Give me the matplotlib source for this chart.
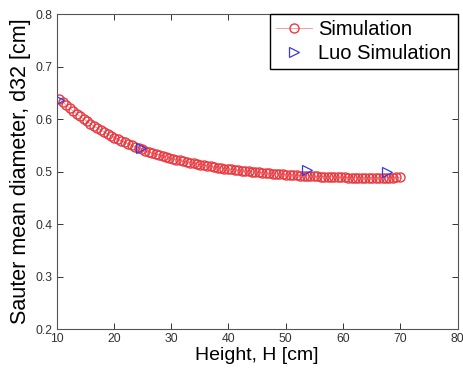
import numpy as np
import matplotlib
matplotlib.use("Agg")
import matplotlib.pyplot as plt

plt.rcParams['font.family'] = ['Liberation Sans', 'DejaVu Sans']

# Simulation: height [cm] and Sauter mean diameter d32 [cm]
sim_height = [10.5, 11.1, 11.7, 12.3, 12.9, 13.5, 14.1, 14.7, 15.3, 15.9,
              16.5, 17.1, 17.7, 18.3, 18.9, 19.5, 20.1, 20.7, 21.3, 21.9,
              22.5, 23.1, 23.7, 24.3, 24.9, 25.5, 26.1, 26.7, 27.3, 27.9,
              28.5, 29.1, 29.7, 30.3, 30.9, 31.5, 32.1, 32.7, 33.3, 33.9,
              34.5, 35.1, 35.7, 36.3, 36.9, 37.5, 38.1, 38.7, 39.3, 39.9,
              40.5, 41.1, 41.7, 42.3, 42.9, 43.5, 44.1, 44.7, 45.3, 45.9,
              46.5, 47.1, 47.7, 48.3, 48.9, 49.5, 50.1, 50.7, 51.3, 51.9,
              52.5, 53.1, 53.7, 54.3, 54.9, 55.5, 56.1, 56.7, 57.3, 57.9,
              58.5, 59.1, 59.7, 60.3, 60.9, 61.5, 62.1, 62.7, 63.3, 63.9,
              64.5, 65.1, 65.7, 66.3, 66.9, 67.5, 68.1, 68.7, 69.3, 69.9]
sim_d32 = [0.6380, 0.6319, 0.6261, 0.6205, 0.6151, 0.6099, 0.6049, 0.6001, 0.5956, 0.5911,
           0.5869, 0.5828, 0.5789, 0.5752, 0.5715, 0.5681, 0.5647, 0.5615, 0.5584, 0.5555,
           0.5526, 0.5499, 0.5473, 0.5448, 0.5423, 0.5400, 0.5378, 0.5356, 0.5336, 0.5316,
           0.5297, 0.5279, 0.5261, 0.5244, 0.5228, 0.5212, 0.5197, 0.5183, 0.5169, 0.5156,
           0.5143, 0.5131, 0.5119, 0.5108, 0.5097, 0.5086, 0.5076, 0.5067, 0.5057, 0.5048,
           0.5040, 0.5032, 0.5024, 0.5016, 0.5009, 0.5002, 0.4995, 0.4989, 0.4982, 0.4976,
           0.4971, 0.4965, 0.4960, 0.4955, 0.4950, 0.4945, 0.4941, 0.4936, 0.4932, 0.4928,
           0.4924, 0.4921, 0.4917, 0.4914, 0.4910, 0.4907, 0.4904, 0.4901, 0.4898, 0.4896,
           0.4893, 0.4891, 0.4888, 0.4886, 0.4884, 0.4882, 0.4881, 0.4880, 0.4879, 0.4879,
           0.4878, 0.4878, 0.4879, 0.4879, 0.4880, 0.4882, 0.4883, 0.4885, 0.4887, 0.4889]

# Luo simulation
luo_height = [10.5, 24.7, 53.7, 67.7]
luo_d32 = [0.637, 0.544, 0.503, 0.4995]

x_ticks = [10, 20, 30, 40, 50, 60, 70, 80]
y_ticks = [0.2, 0.3, 0.4, 0.5, 0.6, 0.7, 0.8]

fig = plt.figure(figsize=(4.64, 3.71), dpi=100)
ax = fig.add_axes([0.122, 0.1132, 0.8642, 0.849])

ax.plot(sim_height, sim_d32, '-o', color='#f09090', lw=0.6,
        markerfacecolor='none', markeredgecolor='#e83a40', markersize=6.5,
        markeredgewidth=1.0, label='Simulation')
ax.plot(luo_height, luo_d32, '>', linestyle='none', markerfacecolor='none',
        markeredgecolor='#3a3ae0', markersize=7, markeredgewidth=0.9,
        label='Luo Simulation')

ax.set_xlim(10, 80)
ax.set_ylim(0.2, 0.8)
ax.set_xticks(x_ticks)
ax.set_yticks(y_ticks)
ax.set_xticklabels([str(v) for v in x_ticks])
ax.set_yticklabels([f"{v:.1f}" for v in y_ticks])
ax.tick_params(direction='in', top=True, right=True, length=4, width=0.7,
               labelsize=8.8, colors='#333333', pad=3)
for s in ax.spines.values():
    s.set_color('#555555')
    s.set_linewidth(0.8)

ax.set_xlabel('Height, H [cm]', fontsize=14, labelpad=1)
ax.set_ylabel('Sauter mean diameter, d32 [cm]', fontsize=15.5, labelpad=3)

leg = ax.legend(loc='upper right', fontsize=14.5, frameon=True, fancybox=False,
                edgecolor='black', framealpha=1, borderaxespad=0,
                handlelength=1.8, handletextpad=0.3, borderpad=0.3,
                labelspacing=0.25)
leg.get_frame().set_linewidth(1.0)

fig.savefig('out.png', dpi=100)
